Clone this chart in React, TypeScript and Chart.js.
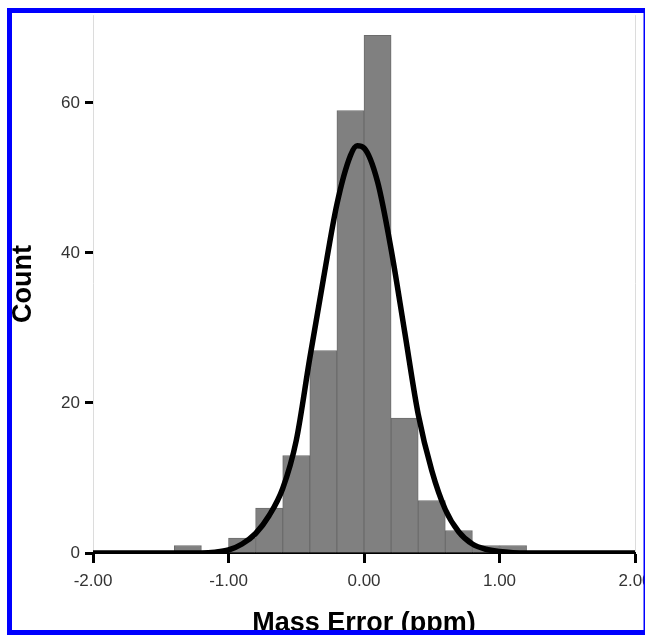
import React, { useEffect, useRef } from "react";
import { Chart, registerables } from "chart.js";

Chart.register(...registerables);

// Histogram bins (centres, ppm) and counts
const binCenters = [-1.3, -1.1, -0.9, -0.7, -0.5, -0.3, -0.1, 0.1, 0.3, 0.5, 0.7, 0.9, 1.1];
const binCounts = [1, 0, 2, 6, 13, 27, 59, 69, 18, 7, 3, 1, 1];

// Fitted normal curve
const curveX = [-2.0, -1.2, -1.1, -1.0, -0.9, -0.8, -0.7, -0.6, -0.5, -0.4, -0.3, -0.2, -0.1, -0.05, 0.0, 0.1, 0.2, 0.3, 0.4, 0.5, 0.6, 0.7, 0.8, 0.9, 1.0, 1.1, 1.2, 2.0];
const curveY = [0, 0, 0.1, 0.4, 1.2, 2.6, 5.0, 8.6, 15, 26, 36.5, 46.5, 53, 54.3, 54, 49.5, 40.5, 29.5, 18.5, 11, 5.8, 2.8, 1.2, 0.5, 0.2, 0.05, 0, 0];

const xTicks = [-2, -1, 0, 1, 2];
const yTicks = [0, 20, 40, 60];
const xTitle = "Mass Error (ppm)";
const yTitle = "Count";

const FONT = "'Liberation Sans', Arial, sans-serif";

const borderPlugin = {
  id: "blueFrame",
  afterDraw(chart: any) {
    const ctx = chart.ctx;
    ctx.save();
    ctx.strokeStyle = "#0000ff";
    ctx.lineWidth = 5;
    ctx.strokeRect(9.5, 10.5, 646 - 9.5, 632.5 - 10.5);
    ctx.restore();
  },
};

export default function App() {
  const ref = useRef<HTMLCanvasElement | null>(null);

  useEffect(() => {
    if (!ref.current) return;
    const chart = new Chart(ref.current, {
      type: "bar",
      data: {
        datasets: [
          {
            type: "line",
            data: curveX.map((x, i) => ({ x, y: curveY[i] })),
            borderColor: "#000000",
            borderWidth: 5.5,
            pointRadius: 0,
            cubicInterpolationMode: "monotone",
            fill: false,
            order: 0,
          } as any,
          {
            type: "bar",
            data: binCenters.map((x, i) => ({ x, y: binCounts[i] })),
            backgroundColor: "#808080",
            borderColor: "#6c6c6c",
            borderWidth: 1,
            barPercentage: 1,
            categoryPercentage: 1,
            order: 1,
          } as any,
        ],
      },
      options: {
        responsive: false,
        animation: false,
        devicePixelRatio: 1,
        layout: { padding: { left: 7.4, top: 14, right: 35, bottom: 10.4 } },
        plugins: { legend: { display: false }, tooltip: { enabled: false } },
        scales: {
          x: {
            type: "linear",
            min: -2,
            max: 2,
            offset: false,
            afterBuildTicks: (s: any) => {
              s.ticks = xTicks.map((v) => ({ value: v }));
            },
            ticks: {
              callback: (v: any) => Number(v).toFixed(2),
              color: "#333333",
              font: { family: FONT, size: 17 },
              padding: 8,
              maxRotation: 0,
              autoSkip: false,
            },
            grid: {
              offset: false,
              color: (c: any) =>
                c.tick && (c.tick.value === -2 || c.tick.value === 2) ? "#dcdcdc" : "rgba(0,0,0,0)",
              lineWidth: 1,
              tickColor: "#000000",
              tickWidth: 3,
              tickLength: 10,
              drawTicks: true,
            },
            border: { display: true, color: "#000000", width: 2 },
            title: {
              display: true,
              text: xTitle,
              color: "#000000",
              font: { family: FONT, size: 27, weight: "bold" },
              padding: { top: 7.8, bottom: 0 },
            },
          },
          y: {
            type: "linear",
            min: 0,
            max: 71.7,
            afterBuildTicks: (s: any) => {
              s.ticks = yTicks.map((v) => ({ value: v }));
            },
            ticks: {
              color: "#333333",
              font: { family: FONT, size: 17 },
              padding: 5,
            },
            grid: {
              drawOnChartArea: false,
              drawTicks: true,
              tickColor: "#000000",
              tickWidth: 3,
              tickLength: 8,
            },
            border: { display: false },
            title: {
              display: true,
              text: yTitle,
              color: "#000000",
              font: { family: FONT, size: 27, weight: "bold" },
              padding: { top: 0, bottom: 16.3 },
            },
          },
        },
      },
      plugins: [borderPlugin],
    });
    return () => chart.destroy();
  }, []);

  return (
    <div
      style={{
        position: "absolute",
        left: 0,
        top: 0,
        width: 645,
        height: 635,
        overflow: "hidden",
        background: "#ffffff",
      }}
    >
      <canvas ref={ref} width={670} height={650} style={{ display: "block", width: 670, height: 650 }} />
    </div>
  );
}
